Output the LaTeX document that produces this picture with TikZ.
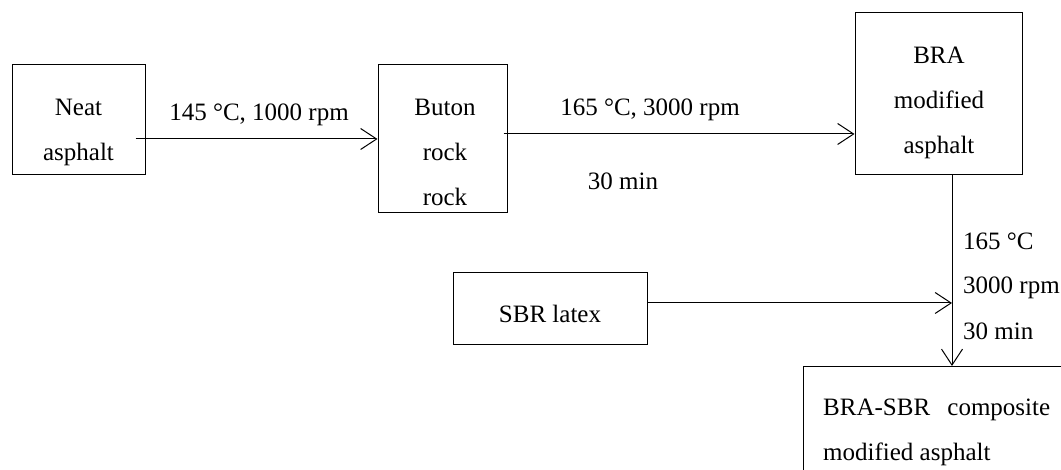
\documentclass[tikz,border=0pt]{standalone}
\usepackage{fontspec}
\setmainfont{Liberation Serif}
\usetikzlibrary{arrows.meta}
\begin{document}
\begin{tikzpicture}[x=1pt, y=1pt,
  box/.style={draw, line width=1pt, inner sep=0pt},
  word/.style={align=center, inner sep=0pt, font=\fontsize{25}{45}\selectfont},
  flow/.style={line width=1pt, -{Straight Barb[length=16pt,width=21pt,line width=1pt]}}]
\useasboundingbox (0,0) rectangle (1061,470);
\clip (0,0) rectangle (1061,470);
% boxes
\node[box, minimum width=133pt, minimum height=110pt] (neat) at (78.5,350) {};
\node[box, minimum width=129pt, minimum height=148pt] (buton) at (442.5,331) {};
\node[box, minimum width=167pt, minimum height=162pt] (bra) at (938.5,376) {};
\node[box, minimum width=194pt, minimum height=72pt] (sbr) at (550,161) {};
\node[box, anchor=north west, minimum width=280pt, minimum height=130pt] (comp) at (803,104) {};
% box texts
\node[word] (neattext) at (78.5,338) {Neat\\asphalt};
\node[word] (butontext) at (445,318) {Buton\\rock\\rock};
\node[word] (bratext) at (939,367) {BRA\\modified\\asphalt};
\node[word] (sbrtext) at (550,156) {SBR latex};
\node[word, anchor=west, align=left] (comptext) at (823,38) {\makebox[227pt][s]{BRA-SBR composite}\\modified asphalt};
% conditions
\node[word] (cond1) at (259,355) {145 °C, 1000 rpm};
\node[word] (cond2) at (650,360) {165 °C, 3000 rpm};
\node[word] (time2) at (623,289) {30 min};
\node[word, anchor=west] (cond3) at (963,229) {165 °C};
\node[word, anchor=west] (speed3) at (963,182) {3000 rpm};
\node[word, anchor=west] (time3) at (963,139) {30 min};
% arrows
\coordinate (mix) at (952,167);
\draw[flow] ([xshift=-10pt]neat.east |- buton.west) -- (buton.west);
\draw[flow] ([shift={(-4pt,5pt)}]buton.east) -- ([yshift=5pt]buton.east -| bra.west);
\draw[flow] (bra.south -| mix) -- (comp.north -| mix);
\draw[flow] (sbr.east |- mix) -- (mix);
\end{tikzpicture}
\end{document}
